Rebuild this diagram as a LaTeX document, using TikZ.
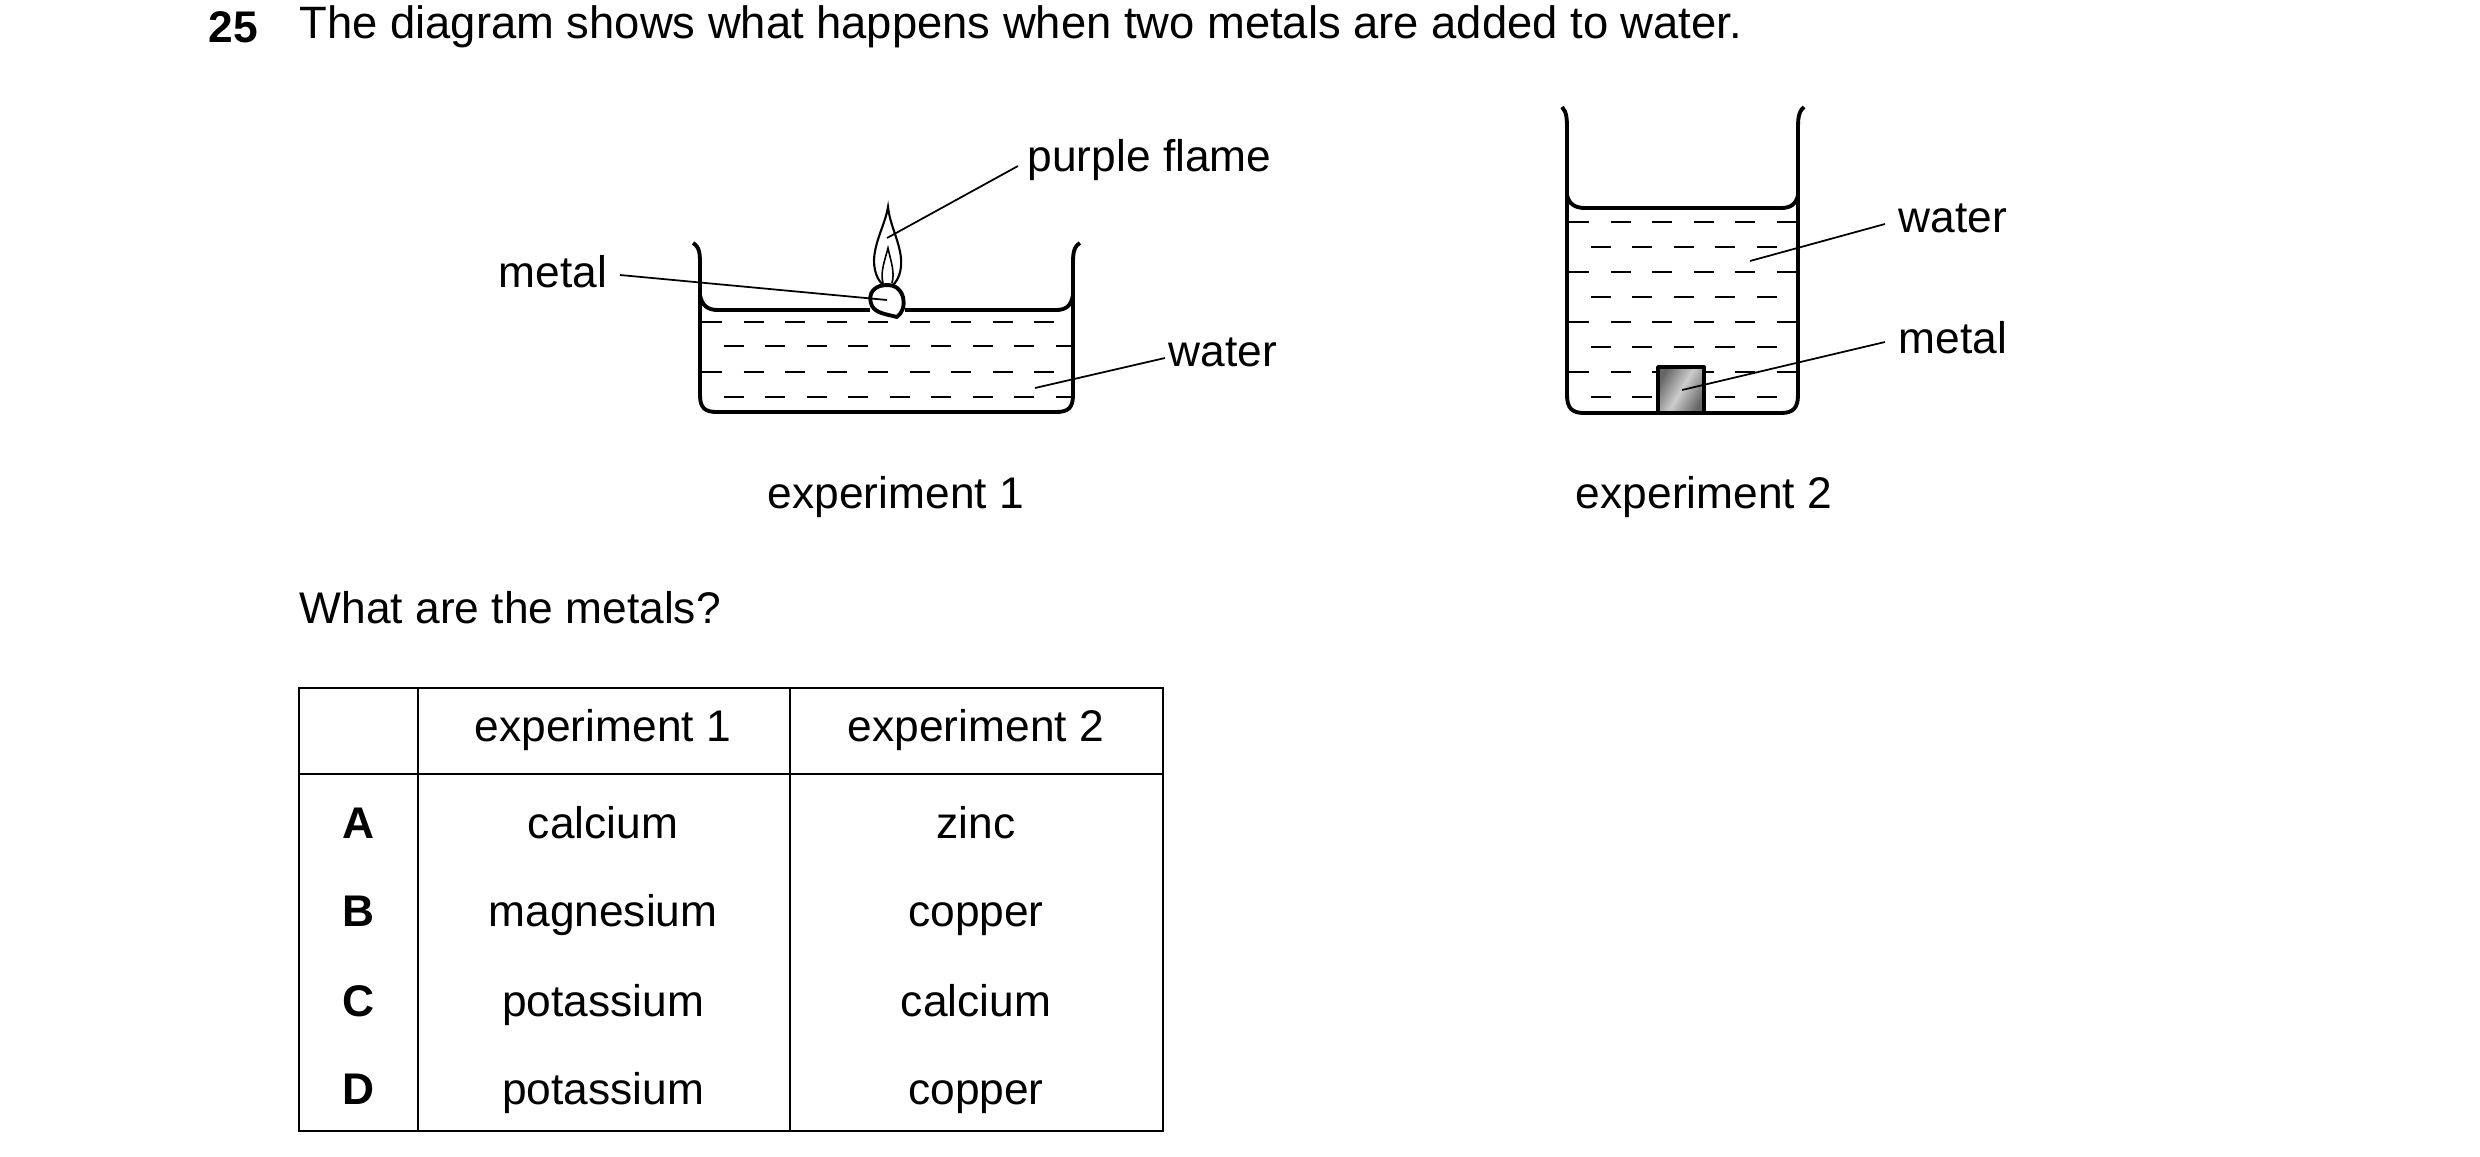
\documentclass[tikz,border=0pt]{standalone}
\usepackage{fontspec}
\setmainfont{Liberation Sans}
\begin{document}
\begin{tikzpicture}[x=0.01cm,y=-0.01cm,
  txt/.style={inner sep=0pt,font=\fontsize{12.6}{15}\selectfont},
  beaker/.style={line width=1.1pt,line join=round},
  lbl/.style={line width=0.5pt},
  dsh/.style={line width=0.5pt,dash pattern=on 0.2cm off 0.215cm},
  cell/.style={txt,text height=0.72em,text depth=0.21em}]
\useasboundingbox (0,0) rectangle (2480,1157);
% title
\node[txt,anchor=west,font=\fontsize{12.6}{15}\selectfont\bfseries] (num) at (208,27) {25};
\node[txt,anchor=west,font=\fontsize{12.9}{15}\selectfont] (title) at (299,27) {The diagram shows what happens when two metals are added to water.};
% experiment 1
\draw[beaker] (693,243) .. controls (700,247) and (700,255) .. (700,265) -- (700,395) .. controls (700,408) and (705,412) .. (717,412) -- (1056,412) .. controls (1068,412) and (1073,408) .. (1073,395) -- (1073,265) .. controls (1073,255) and (1073,247) .. (1080,243);
\draw[beaker] (700,295) .. controls (702,306) and (708,310) .. (718,310) -- (1056,310) .. controls (1066,310) and (1071,306) .. (1073,295);
\foreach \yy/\ph in {322/0,346/0.2,372/0,397/0.2}
  \draw[dsh,dash phase=\ph cm] (702,\yy) -- (1071,\yy);
\fill[white] (870,287) rectangle (905,318);
\draw[beaker] (880,286) .. controls (892,283) and (900,287) .. (903,297) .. controls (905,307) and (902,313) .. (897,317) .. controls (885,314) and (876,313) .. (872,306) .. controls (868,297) and (871,289) .. (880,286) -- cycle;
\coordinate (lump) at (887,300);
% flame
\draw[line width=0.6pt] (888,207) .. controls (885,225) and (875,240) .. (874,260) .. controls (874,275) and (880,283) .. (884,285) -- (893,285) .. controls (898,280) and (902,272) .. (901,258) .. controls (899,240) and (890,225) .. (888,207) -- cycle;
\draw[line width=0.45pt] (883,283) .. controls (880,272) and (885,260) .. (888,248) .. controls (891,262) and (895,272) .. (892,283);
\coordinate (flame) at (887,238);
\node[txt,anchor=west] (pf) at (1027,160) {purple flame};
\draw[lbl] (flame) -- (1018,166);
\node[txt,anchor=east] (m1) at (608,272) {metal};
\draw[lbl] (620,275) -- (lump);
\node[txt,anchor=west] (w1) at (1168,352) {water};
\coordinate (w1p) at (1035,388);
\draw[lbl] (1165,358) -- (w1p);
\node[txt] (e1) at (896,497) {experiment 1};
% experiment 2
\draw[beaker] (1562,107) .. controls (1567,112) and (1567,120) .. (1567,130) -- (1567,395) .. controls (1567,408) and (1572,413) .. (1584,413) -- (1781,413) .. controls (1793,413) and (1798,408) .. (1798,395) -- (1798,130) .. controls (1798,120) and (1798,112) .. (1804,107);
\draw[beaker] (1567,195) .. controls (1569,204) and (1575,208) .. (1585,208) -- (1781,208) .. controls (1791,208) and (1796,204) .. (1798,195);
\foreach \yy/\ph in {222/0,247/0.2,272/0,297/0.2,322/0,347/0.2,372/0,397/0.2}
  \draw[dsh,dash phase=\ph cm] (1569,\yy) -- (1796,\yy);
\fill[white] (1656,365) rectangle (1706,411);
\shade[left color=gray!80!black,right color=gray!80!black,middle color=gray!40,shading angle=60] (1658,367) rectangle (1704,413);
\draw[beaker] (1658,367) rectangle (1704,413);
\coordinate (m2p) at (1682,390);
\coordinate (w2p) at (1750,261);
\node[txt,anchor=west] (w2) at (1898,218) {water};
\draw[lbl] (1885,224) -- (w2p);
\node[txt,anchor=west] (m2) at (1898,338) {metal};
\draw[lbl] (1885,342) -- (m2p);
\node[txt] (e2) at (1704,497) {experiment 2};
% question
\node[txt,anchor=west] (q) at (299,608) {What are the metals?};
% table
\draw[line width=0.6pt] (299,688) rectangle (1163,1131);
\draw[line width=0.6pt] (299,774) -- (1163,774);
\draw[line width=0.6pt] (418,688) -- (418,1131);
\draw[line width=0.6pt] (790,688) -- (790,1131);
\node[cell] (h1) at (603,733) {experiment 1};
\node[cell] (h2) at (976,733) {experiment 2};
\foreach \L/\a/\b/\yy in {A/calcium/zinc/830,B/magnesium/copper/918,C/potassium/calcium/1008,D/potassium/copper/1096}{
  \node[cell,font=\fontsize{12.6}{15}\selectfont\bfseries] at (358,\yy) {\L};
  \node[cell] at (603,\yy) {\a};
  \node[cell] at (976,\yy) {\b};
}
\end{tikzpicture}
\end{document}
